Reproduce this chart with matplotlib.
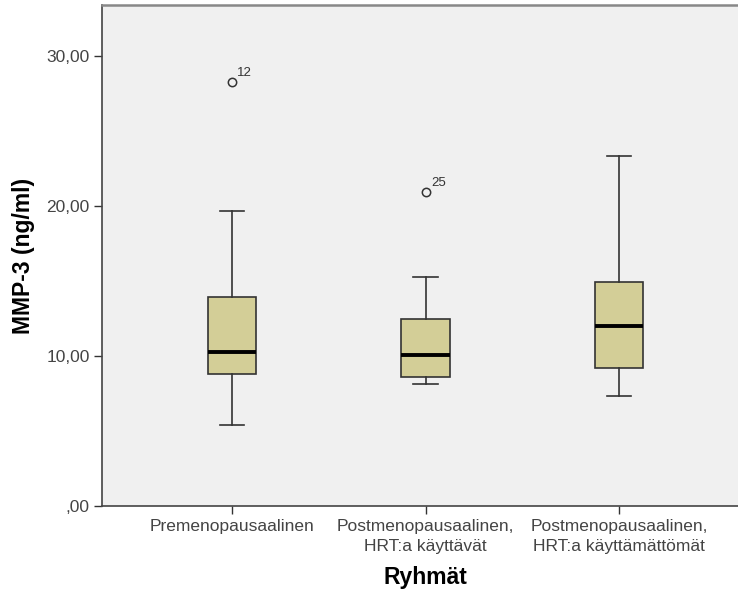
import matplotlib
matplotlib.use('Agg')
import matplotlib.pyplot as plt

plt.rcParams['font.family'] = ['Liberation Sans', 'DejaVu Sans']

# ryhmät ja laatikkokuvion tunnusluvut (luettu kuvasta)
groups = ['Premenopausaalinen', 'Postmenopausaalinen,\nHRT:a käyttävät',
          'Postmenopausaalinen,\nHRT:a käyttämättömät']
whislo = [5.4, 8.15, 7.35]
q1 = [8.8, 8.6, 9.17]
med = [10.28, 10.08, 11.97]
q3 = [13.92, 12.48, 14.95]
whishi = [19.65, 15.28, 23.32]
fliers = [[28.3], [20.95], []]
flier_ids = [['12'], ['25'], []]

yticks = [0, 10, 20, 30]
ytick_labels = [',00', '10,00', '20,00', '30,00']

stats = []
for i in range(len(groups)):
    stats.append({'whislo': whislo[i], 'q1': q1[i], 'med': med[i], 'q3': q3[i],
                  'whishi': whishi[i], 'fliers': fliers[i], 'label': groups[i]})

fig = plt.figure(figsize=(7.38, 5.96), dpi=100)
ax = fig.add_axes([102 / 738, 90 / 596, 647 / 738, 501 / 596])
ax.set_facecolor('#f0f0f0')

pos = [1, 2, 3]
ax.bxp(stats, positions=pos, widths=0.25, capwidths=0.125, patch_artist=True,
       boxprops=dict(facecolor='#d3ce97', edgecolor='#333333', linewidth=1.2),
       whiskerprops=dict(color='#333333', linewidth=1.2),
       capprops=dict(color='#333333', linewidth=1.2),
       medianprops=dict(color='black', linewidth=2.8),
       flierprops=dict(marker='o', markerfacecolor='none', markeredgecolor='#333333',
                       markersize=6, markeredgewidth=1.1))

# havaintojen numerot poikkeaville arvoille
for i in range(len(groups)):
    for v, lab in zip(fliers[i], flier_ids[i]):
        ax.annotate(lab, (pos[i], v), xytext=(4, 4), textcoords='offset points',
                    fontsize=9.5, color='#333333')

ax.set_xlim(0.33, 3.67)
ax.set_ylim(0, 33.4)
ax.set_yticks(yticks)
ax.set_yticklabels(ytick_labels)
ax.set_xticks(pos)
ax.set_xticklabels(groups, linespacing=1.4)
ax.tick_params(axis='both', direction='out', length=6, width=1, color='#333333',
               labelcolor='#444444', labelsize=12.5)
ax.tick_params(axis='y', pad=3)

for s in ['left', 'bottom']:
    ax.spines[s].set_color('#444444')
    ax.spines[s].set_linewidth(1.2)
ax.spines['top'].set_color('#888888')
ax.spines['top'].set_linewidth(1.8)
ax.spines['right'].set_visible(False)

ax.set_ylabel('MMP-3 (ng/ml)', fontsize=16.5, fontweight='bold', labelpad=8)
ax.set_xlabel('Ryhmät', fontsize=16.5, fontweight='bold', labelpad=9)

fig.savefig('out.png', dpi=100)
